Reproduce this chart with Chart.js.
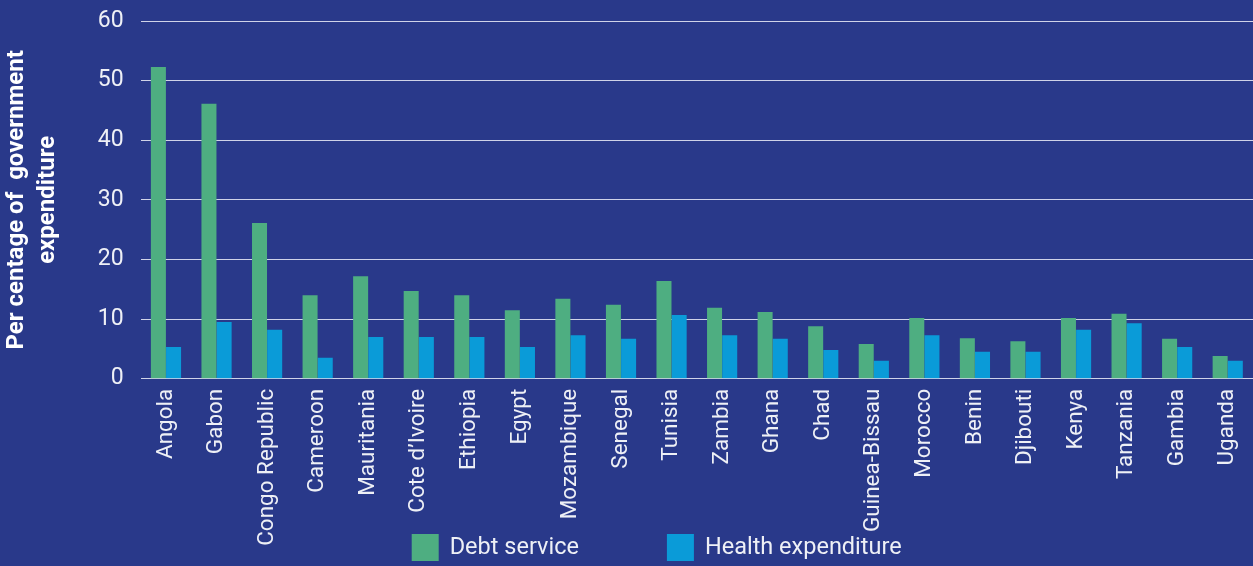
<!DOCTYPE html>
<html>
<head>
<meta charset="utf-8">
<title>Debt service vs health expenditure</title>
<script src="https://cdn.jsdelivr.net/npm/chart.js@4/dist/chart.umd.min.js"></script>
<style>
  html, body { margin: 0; padding: 0; background: #29398a; }
  canvas { display: block; }
</style>
</head>
<body>
<canvas id="chart" width="1253" height="566"></canvas>
<script>
// Countries, ordered as displayed
const countries = [
  'Angola', 'Gabon', 'Congo Republic', 'Cameroon', 'Mauritania', 'Cote d\u2019Ivoire',
  'Ethiopia', 'Egypt', 'Mozambique', 'Senegal', 'Tunisia', 'Zambia', 'Ghana', 'Chad',
  'Guinea-Bissau', 'Morocco', 'Benin', 'Djibouti', 'Kenya', 'Tanzania', 'Gambia', 'Uganda'
];

// Per cent of government expenditure
const debtService = [52.3, 46.1, 26.1, 14.0, 17.2, 14.7, 14.0, 11.5, 13.4, 12.4, 16.4, 11.9,
                     11.2, 8.8, 5.8, 10.2, 6.8, 6.3, 10.2, 10.9, 6.7, 3.8];
const healthExpenditure = [5.3, 9.5, 8.2, 3.5, 7.0, 7.0, 7.0, 5.3, 7.3, 6.7, 10.7, 7.3,
                           6.7, 4.8, 3.0, 7.3, 4.5, 4.5, 8.2, 9.3, 5.3, 3.0];

const yTicks = [0, 10, 20, 30, 40, 50, 60];
const yTitle = ['Per centage of  government', 'expenditure'];

const BG = '#29398a';
const GREEN = '#4eae81';
const BLUE = '#0a9bd8';
const TEXT = '#eef0f6';
const FONT = 'Roboto, "Noto Sans", sans-serif';

// Paint the navy background behind everything
const backgroundPlugin = {
  id: 'navyBackground',
  beforeDraw(chart) {
    const { ctx, width, height } = chart;
    ctx.save();
    ctx.fillStyle = BG;
    ctx.fillRect(0, 0, width, height);
    ctx.restore();
  }
};

// Legend row drawn along the bottom edge
const bottomLegend = {
  id: 'bottomLegend',
  afterDraw(chart) {
    const { ctx, chartArea } = chart;
    const box = 27, textGap = 11, itemGap = 88;
    let x = chartArea.left + 271;
    const top = 534;
    ctx.save();
    ctx.font = '23.5px ' + FONT;
    ctx.textBaseline = 'middle';
    ctx.textAlign = 'left';
    chart.data.datasets.forEach(ds => {
      ctx.fillStyle = ds.backgroundColor;
      ctx.fillRect(x, top, box, box);
      x += box + textGap;
      ctx.fillStyle = TEXT;
      ctx.fillText(ds.label, x, top + box / 2 + 1);
      x += ctx.measureText(ds.label).width + itemGap;
    });
    ctx.restore();
  }
};

new Chart(document.getElementById('chart'), {
  type: 'bar',
  data: {
    labels: countries,
    datasets: [
      { label: 'Debt service', data: debtService, backgroundColor: GREEN },
      { label: 'Health expenditure', data: healthExpenditure, backgroundColor: BLUE }
    ]
  },
  options: {
    responsive: false,
    animation: false,
    devicePixelRatio: 1,
    layout: { padding: { top: 21, right: 0, bottom: 0, left: 0 } },
    datasets: {
      bar: { categoryPercentage: 0.6, barPercentage: 0.99 }
    },
    plugins: {
      legend: { display: false },
      tooltip: { enabled: false }
    },
    scales: {
      x: {
        grid: { display: false, drawTicks: false },
        border: { display: false },
        ticks: {
          color: TEXT,
          font: { family: FONT, size: 22.5 },
          autoSkip: false,
          maxRotation: 90,
          minRotation: 90,
          padding: 10
        },
        afterFit(scale) {
          scale.height = 187.3;
          scale.paddingLeft = 0;
          scale.paddingRight = 0;
        }
      },
      y: {
        min: yTicks[0],
        max: yTicks[yTicks.length - 1],
        afterBuildTicks(scale) { scale.ticks = yTicks.map(v => ({ value: v })); },
        grid: { color: 'rgba(236,238,248,0.85)', lineWidth: 1, drawTicks: false },
        border: { display: false },
        ticks: {
          color: TEXT,
          font: { family: FONT, size: 23 },
          padding: 17
        },
        title: {
          display: true,
          text: yTitle,
          color: '#ffffff',
          font: { family: FONT, size: 24, weight: 'bold', lineHeight: 1.29 },
          padding: { top: 1.5, bottom: 0 }
        },
        afterFit(scale) {
          scale.width = 140.7;
          scale.paddingTop = 0;
          scale.paddingBottom = 0;
        }
      }
    }
  },
  plugins: [backgroundPlugin, bottomLegend]
});
</script>
</body>
</html>
